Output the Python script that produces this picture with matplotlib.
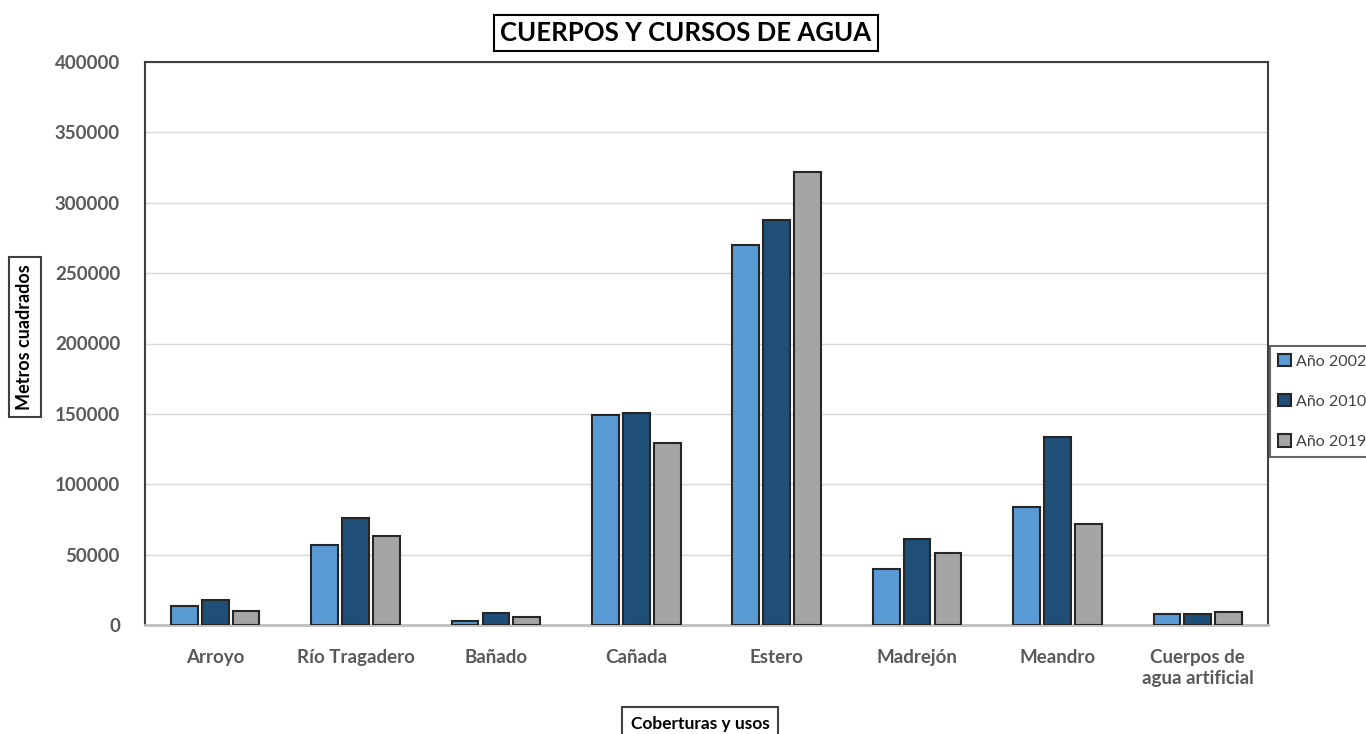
import numpy as np
import matplotlib.pyplot as plt

categories = ["Arroyo", "Río Tragadero", "Bañado", "Cañada", "Estero",
              "Madrejón", "Meandro", "Cuerpos de\nagua artificial"]
anio_2002 = [13500, 56800, 2800, 149000, 270000, 39800, 83800, 7800]
anio_2010 = [17700, 76000, 8500, 150600, 287600, 61000, 133500, 7800]
anio_2019 = [10000, 63200, 5700, 129000, 321700, 51000, 71700, 9200]
series_labels = ["Año 2002", "Año 2010", "Año 2019"]
colors = ["#5B9BD5", "#1F4E79", "#A5A5A5"]

plt.rcParams['font.family'] = ['Lato', 'DejaVu Sans']

fig = plt.figure(figsize=(13.66, 7.34), dpi=100)
ax = fig.add_axes([145 / 1366, 1 - 625 / 734, 1123 / 1366, 563 / 734])

x = np.arange(len(categories))
width = 0.19
offset = 0.22
for i, vals in enumerate([anio_2002, anio_2010, anio_2019]):
    ax.bar(x + (i - 1) * offset, vals, width, color=colors[i],
           edgecolor="#262626", linewidth=1.5, label=series_labels[i], zorder=3)

ax.set_xlim(-0.5, len(categories) - 0.5)
ax.set_ylim(0, 400000)
ax.set_yticks(np.arange(0, 400001, 50000))
ax.yaxis.grid(True, color="#D9D9D9", linewidth=1, zorder=0)
ax.set_xticks(x)
ax.set_xticklabels(categories, fontsize=13.5, fontweight="bold", color="#595959",
                   linespacing=1.3)
ax.tick_params(axis="y", labelsize=13.5, colors="#595959", length=0, pad=18)
ax.tick_params(axis="x", length=0, pad=17)
for lab in ax.get_yticklabels():
    lab.set_fontweight("bold")

for side in ["left", "top", "right"]:
    ax.spines[side].set_color("#404040")
    ax.spines[side].set_linewidth(1.5)
ax.spines["bottom"].set_color("#BFBFBF")
ax.spines["bottom"].set_linewidth(2)

fig.text(686 / 1366, 1 - 33 / 734, "CUERPOS Y CURSOS DE AGUA", ha="center", va="center",
         fontsize=18.5, fontweight="bold", color="black",
         bbox=dict(boxstyle="square,pad=0.25", facecolor="white", edgecolor="black", linewidth=1.5))

fig.text(25 / 1366, 1 - 337 / 734, "Metros cuadrados", ha="center", va="center",
         rotation=90, fontsize=13, fontweight="bold", color="black",
         bbox=dict(boxstyle="square,pad=0.4", facecolor="white", edgecolor="#404040", linewidth=1.5))

fig.text(700 / 1366, 1 - 724 / 734, "Coberturas y usos", ha="center", va="center",
         fontsize=12.5, fontweight="bold", color="black",
         bbox=dict(boxstyle="square,pad=0.5", facecolor="white", edgecolor="#404040", linewidth=1.5))

leg = fig.legend(loc="upper left", bbox_to_anchor=(1270 / 1366, 1 - 346 / 734),
                 fontsize=11.5, frameon=True, fancybox=False, handlelength=0.8,
                 handleheight=0.8, handletextpad=0.3, labelspacing=1.6,
                 borderpad=0.5, borderaxespad=0, labelcolor="#404040")
leg.get_frame().set_edgecolor("#404040")
leg.get_frame().set_linewidth(1.5)

fig.savefig("out.png", dpi=100)
